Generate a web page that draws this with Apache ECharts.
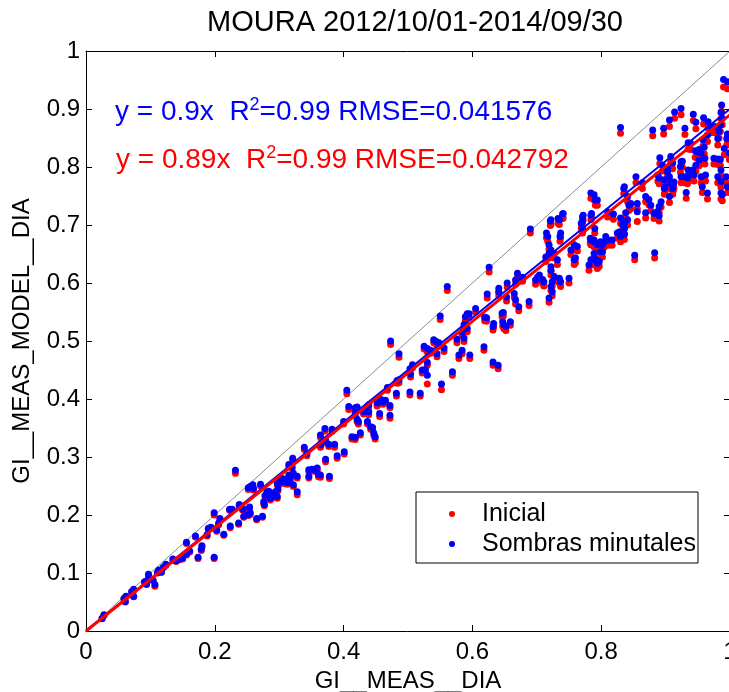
<!DOCTYPE html>
<html>
<head>
<meta charset="utf-8">
<title>MOURA GI</title>
<script src="https://cdn.jsdelivr.net/npm/echarts/dist/echarts.min.js"></script>
<style>
  html, body { margin: 0; padding: 0; background: #fff; overflow: hidden; }
  #chart { width: 729px; height: 692px; }
</style>
</head>
<body>
<div id="chart"></div>
<script>
// Daily global irradiation: measured (x) vs. modelled (y), MOURA station
const gi_meas = [
  0.025, 0.028, 0.059, 0.061, 0.062, 0.071, 0.074, 0.074, 0.091, 0.094,
  0.096, 0.097, 0.104, 0.107, 0.111, 0.113, 0.117, 0.120, 0.124, 0.135,
  0.140, 0.145, 0.150, 0.156, 0.156, 0.161, 0.170, 0.174, 0.179, 0.180,
  0.188, 0.190, 0.194, 0.199, 0.199, 0.203, 0.206, 0.208, 0.214, 0.223,
  0.224, 0.227, 0.232, 0.237, 0.238, 0.243, 0.244, 0.245, 0.252, 0.252,
  0.254, 0.255, 0.255, 0.259, 0.260, 0.265, 0.271, 0.274, 0.276, 0.277,
  0.278, 0.281, 0.284, 0.286, 0.289, 0.294, 0.297, 0.297, 0.298, 0.300,
  0.302, 0.304, 0.307, 0.309, 0.313, 0.315, 0.315, 0.317, 0.320, 0.321,
  0.322, 0.322, 0.328, 0.328, 0.339, 0.343, 0.346, 0.346, 0.351, 0.356,
  0.359, 0.361, 0.364, 0.364, 0.364, 0.365, 0.371, 0.372, 0.372, 0.377,
  0.378, 0.382, 0.386, 0.390, 0.400, 0.401, 0.405, 0.408, 0.413, 0.418,
  0.418, 0.418, 0.421, 0.421, 0.423, 0.426, 0.431, 0.437, 0.437, 0.439,
  0.439, 0.442, 0.445, 0.447, 0.449, 0.452, 0.456, 0.457, 0.458, 0.461,
  0.465, 0.468, 0.472, 0.472, 0.473, 0.482, 0.483, 0.486, 0.486, 0.503,
  0.503, 0.504, 0.507, 0.519, 0.522, 0.525, 0.527, 0.530, 0.530, 0.530,
  0.535, 0.540, 0.544, 0.545, 0.548, 0.550, 0.552, 0.556, 0.561, 0.569,
  0.576, 0.579, 0.584, 0.584, 0.587, 0.587, 0.589, 0.592, 0.592, 0.595,
  0.596, 0.605, 0.618, 0.619, 0.622, 0.623, 0.626, 0.632, 0.632, 0.633,
  0.640, 0.641, 0.641, 0.646, 0.647, 0.648, 0.649, 0.652, 0.653, 0.654,
  0.659, 0.665, 0.667, 0.667, 0.670, 0.672, 0.678, 0.688, 0.690, 0.698,
  0.701, 0.704, 0.709, 0.711, 0.714, 0.715, 0.717, 0.719, 0.719, 0.719,
  0.721, 0.722, 0.722, 0.722, 0.722, 0.722, 0.724, 0.724, 0.727, 0.727,
  0.732, 0.733, 0.735, 0.735, 0.736, 0.737, 0.737, 0.740, 0.741, 0.750,
  0.753, 0.758, 0.758, 0.760, 0.763, 0.769, 0.771, 0.771, 0.771, 0.772,
  0.781, 0.783, 0.784, 0.784, 0.784, 0.784, 0.785, 0.789, 0.789, 0.789,
  0.789, 0.789, 0.790, 0.791, 0.792, 0.794, 0.794, 0.794, 0.794, 0.797,
  0.799, 0.799, 0.802, 0.802, 0.805, 0.807, 0.810, 0.812, 0.817, 0.819,
  0.825, 0.828, 0.830, 0.830, 0.830, 0.833, 0.835, 0.836, 0.836, 0.836,
  0.836, 0.838, 0.841, 0.841, 0.843, 0.846, 0.852, 0.854, 0.856, 0.856,
  0.864, 0.869, 0.869, 0.874, 0.877, 0.880, 0.882, 0.883, 0.887, 0.888,
  0.890, 0.890, 0.890, 0.891, 0.893, 0.895, 0.897, 0.898, 0.898, 0.899,
  0.903, 0.903, 0.906, 0.906, 0.906, 0.908, 0.908, 0.911, 0.911, 0.912,
  0.913, 0.914, 0.923, 0.924, 0.924, 0.924, 0.926, 0.929, 0.930, 0.932,
  0.934, 0.935, 0.935, 0.937, 0.939, 0.942, 0.943, 0.944, 0.946, 0.947,
  0.947, 0.949, 0.952, 0.952, 0.955, 0.955, 0.957, 0.958, 0.959, 0.960,
  0.961, 0.962, 0.965, 0.965, 0.966, 0.970, 0.975, 0.976, 0.981, 0.981,
  0.982, 0.983, 0.985, 0.985, 0.986, 0.986, 0.986, 0.986, 0.987, 0.988,
  0.988, 0.990, 0.991, 0.994, 0.995, 0.996, 0.996, 0.996, 0.999
];

// Model with minute-resolution shading ("Sombras minutales")
const model_sombras = [
  0.022, 0.028, 0.056, 0.051, 0.060, 0.068, 0.072, 0.060, 0.085, 0.081,
  0.088, 0.098, 0.088, 0.080, 0.101, 0.105, 0.102, 0.110, 0.115, 0.124,
  0.121, 0.124, 0.126, 0.133, 0.153, 0.138, 0.164, 0.127, 0.141, 0.147,
  0.166, 0.177, 0.179, 0.127, 0.204, 0.174, 0.186, 0.194, 0.167, 0.210,
  0.181, 0.210, 0.277, 0.186, 0.218, 0.212, 0.210, 0.198, 0.201, 0.247,
  0.214, 0.204, 0.249, 0.252, 0.246, 0.194, 0.253, 0.198, 0.223, 0.218,
  0.234, 0.240, 0.241, 0.229, 0.232, 0.240, 0.232, 0.255, 0.245, 0.255,
  0.260, 0.263, 0.262, 0.257, 0.256, 0.269, 0.287, 0.263, 0.283, 0.298,
  0.272, 0.252, 0.267, 0.240, 0.317, 0.306, 0.278, 0.267, 0.279, 0.278,
  0.281, 0.270, 0.269, 0.321, 0.338, 0.324, 0.349, 0.329, 0.296, 0.322,
  0.267, 0.348, 0.322, 0.302, 0.361, 0.309, 0.415, 0.387, 0.335, 0.376,
  0.385, 0.334, 0.365, 0.386, 0.361, 0.342, 0.378, 0.361, 0.387, 0.378,
  0.390, 0.352, 0.351, 0.341, 0.335, 0.393, 0.375, 0.397, 0.399, 0.395,
  0.398, 0.420, 0.389, 0.372, 0.500, 0.410, 0.432, 0.433, 0.478, 0.412,
  0.452, 0.443, 0.459, 0.410, 0.450, 0.491, 0.451, 0.487, 0.463, 0.441,
  0.484, 0.502, 0.499, 0.478, 0.497, 0.543, 0.426, 0.488, 0.594, 0.447,
  0.503, 0.476, 0.484, 0.516, 0.528, 0.505, 0.542, 0.547, 0.522, 0.547,
  0.476, 0.556, 0.490, 0.541, 0.540, 0.581, 0.627, 0.464, 0.525, 0.530,
  0.458, 0.585, 0.591, 0.548, 0.533, 0.549, 0.528, 0.525, 0.576, 0.600,
  0.533, 0.582, 0.605, 0.571, 0.617, 0.559, 0.610, 0.568, 0.693, 0.605,
  0.610, 0.614, 0.606, 0.602, 0.645, 0.686, 0.680, 0.666, 0.651, 0.574,
  0.707, 0.709, 0.657, 0.628, 0.622, 0.594, 0.602, 0.585, 0.651, 0.611,
  0.640, 0.711, 0.709, 0.608, 0.680, 0.686, 0.602, 0.719, 0.720, 0.608,
  0.657, 0.666, 0.640, 0.643, 0.663, 0.703, 0.694, 0.714, 0.706, 0.717,
  0.631, 0.677, 0.755, 0.717, 0.674, 0.640, 0.720, 0.752, 0.674, 0.671,
  0.651, 0.640, 0.694, 0.743, 0.640, 0.743, 0.668, 0.666, 0.634, 0.637,
  0.671, 0.654, 0.654, 0.666, 0.671, 0.680, 0.723, 0.674, 0.674, 0.719,
  0.686, 0.688, 0.712, 0.868, 0.680, 0.700, 0.763, 0.766, 0.703, 0.694,
  0.684, 0.721, 0.749, 0.709, 0.734, 0.737, 0.648, 0.783, 0.737, 0.723,
  0.773, 0.749, 0.721, 0.744, 0.734, 0.864, 0.720, 0.652, 0.723, 0.786,
  0.732, 0.716, 0.781, 0.816, 0.740, 0.803, 0.867, 0.763, 0.778, 0.766,
  0.792, 0.798, 0.881, 0.783, 0.749, 0.818, 0.772, 0.807, 0.763, 0.769,
  0.774, 0.895, 0.801, 0.901, 0.809, 0.783, 0.810, 0.783, 0.867, 0.756,
  0.781, 0.842, 0.795, 0.789, 0.841, 0.795, 0.891, 0.786, 0.828, 0.877,
  0.803, 0.826, 0.830, 0.812, 0.824, 0.783, 0.766, 0.847, 0.885, 0.834,
  0.815, 0.786, 0.855, 0.755, 0.878, 0.870, 0.815, 0.870, 0.849, 0.783,
  0.814, 0.861, 0.872, 0.813, 0.894, 0.795, 0.775, 0.755, 0.907, 0.884,
  0.752, 0.951, 0.832, 0.783, 0.849, 0.947, 0.766, 0.857, 0.824
];

// Initial model ("Inicial")
const model_inicial = [
  0.021, 0.027, 0.055, 0.050, 0.059, 0.067, 0.070, 0.059, 0.084, 0.080,
  0.087, 0.096, 0.087, 0.077, 0.100, 0.103, 0.101, 0.109, 0.113, 0.122,
  0.120, 0.123, 0.124, 0.131, 0.151, 0.136, 0.162, 0.125, 0.139, 0.145,
  0.164, 0.175, 0.177, 0.125, 0.200, 0.172, 0.183, 0.192, 0.165, 0.208,
  0.178, 0.207, 0.272, 0.184, 0.215, 0.209, 0.208, 0.196, 0.199, 0.244,
  0.212, 0.201, 0.246, 0.249, 0.243, 0.192, 0.250, 0.196, 0.220, 0.216,
  0.231, 0.237, 0.238, 0.226, 0.229, 0.237, 0.229, 0.252, 0.242, 0.252,
  0.257, 0.260, 0.259, 0.254, 0.253, 0.266, 0.284, 0.260, 0.280, 0.295,
  0.269, 0.249, 0.264, 0.235, 0.313, 0.302, 0.275, 0.264, 0.276, 0.275,
  0.277, 0.266, 0.265, 0.317, 0.334, 0.320, 0.345, 0.325, 0.292, 0.318,
  0.263, 0.344, 0.317, 0.298, 0.357, 0.305, 0.409, 0.382, 0.331, 0.372,
  0.381, 0.330, 0.361, 0.382, 0.357, 0.338, 0.374, 0.357, 0.383, 0.373,
  0.386, 0.348, 0.347, 0.337, 0.331, 0.388, 0.370, 0.392, 0.394, 0.391,
  0.393, 0.415, 0.385, 0.367, 0.494, 0.405, 0.427, 0.428, 0.472, 0.407,
  0.447, 0.438, 0.454, 0.405, 0.445, 0.486, 0.446, 0.481, 0.458, 0.426,
  0.479, 0.497, 0.494, 0.473, 0.491, 0.537, 0.416, 0.482, 0.587, 0.441,
  0.497, 0.470, 0.478, 0.510, 0.522, 0.499, 0.534, 0.541, 0.516, 0.541,
  0.470, 0.550, 0.484, 0.535, 0.534, 0.574, 0.619, 0.458, 0.519, 0.524,
  0.452, 0.578, 0.584, 0.542, 0.526, 0.543, 0.521, 0.518, 0.569, 0.593,
  0.527, 0.575, 0.598, 0.564, 0.610, 0.552, 0.603, 0.561, 0.686, 0.598,
  0.603, 0.606, 0.599, 0.595, 0.637, 0.678, 0.672, 0.658, 0.643, 0.567,
  0.699, 0.701, 0.649, 0.620, 0.614, 0.587, 0.595, 0.578, 0.643, 0.604,
  0.632, 0.703, 0.701, 0.600, 0.672, 0.678, 0.594, 0.711, 0.712, 0.600,
  0.649, 0.658, 0.632, 0.635, 0.655, 0.695, 0.686, 0.706, 0.698, 0.709,
  0.622, 0.669, 0.746, 0.709, 0.666, 0.632, 0.712, 0.743, 0.666, 0.662,
  0.643, 0.631, 0.686, 0.734, 0.632, 0.734, 0.660, 0.657, 0.625, 0.629,
  0.662, 0.646, 0.645, 0.657, 0.662, 0.671, 0.714, 0.665, 0.665, 0.710,
  0.677, 0.679, 0.703, 0.858, 0.671, 0.691, 0.754, 0.757, 0.694, 0.685,
  0.675, 0.712, 0.740, 0.700, 0.725, 0.728, 0.640, 0.773, 0.728, 0.706,
  0.763, 0.740, 0.712, 0.735, 0.725, 0.854, 0.711, 0.643, 0.714, 0.776,
  0.722, 0.707, 0.771, 0.806, 0.731, 0.793, 0.857, 0.753, 0.768, 0.756,
  0.782, 0.788, 0.870, 0.773, 0.739, 0.808, 0.762, 0.797, 0.753, 0.759,
  0.764, 0.884, 0.791, 0.890, 0.799, 0.773, 0.800, 0.773, 0.856, 0.746,
  0.771, 0.831, 0.785, 0.779, 0.830, 0.785, 0.880, 0.776, 0.817, 0.866,
  0.793, 0.815, 0.819, 0.802, 0.813, 0.773, 0.756, 0.836, 0.874, 0.823,
  0.805, 0.776, 0.844, 0.745, 0.867, 0.859, 0.805, 0.859, 0.838, 0.773,
  0.804, 0.850, 0.861, 0.803, 0.883, 0.785, 0.765, 0.745, 0.896, 0.873,
  0.742, 0.938, 0.821, 0.773, 0.838, 0.935, 0.756, 0.846, 0.813
];

// Regression fits through the origin, one per model
const fit_names  = ['Sombras minutales', 'Inicial'];
const fit_slopes = [0.9, 0.89];
const fit_r2     = ['0.99', '0.99'];
const fit_rmse   = ['0.041576', '0.042792'];

// Axis ticks
const x_ticks = [0, 0.2, 0.4, 0.6, 0.8, 1];
const y_ticks = [0, 0.1, 0.2, 0.3, 0.4, 0.5, 0.6, 0.7, 0.8, 0.9, 1];

const FONT = '"Liberation Sans", Arial, Helvetica, sans-serif';
const RED = '#ff0000';
const BLUE = '#0000ff';

function pairs(xs, ys) {
  return xs.map((x, i) => [x, ys[i]]);
}

const chart = echarts.init(document.getElementById('chart'), null, { renderer: 'canvas' });

const axisCommon = {
  type: 'value',
  axisLine: { show: true, onZero: false, lineStyle: { color: '#000', width: 1 } },
  axisTick: { show: true, inside: true, length: 6, lineStyle: { color: '#000', width: 1 } },
  splitLine: { show: false },
  nameTextStyle: { fontFamily: FONT, fontSize: 24, color: '#000' }
};

const xStep = x_ticks[1] - x_ticks[0];
const yStep = y_ticks[1] - y_ticks[0];
const xMin = x_ticks[0], xMax = x_ticks[x_ticks.length - 1];
const yMin = y_ticks[0], yMax = y_ticks[y_ticks.length - 1];

const option = {
  animation: false,
  backgroundColor: '#fff',
  title: {
    text: 'MOURA 2012/10/01-2014/09/30',
    left: 410,
    textAlign: 'center',
    top: 3,
    textStyle: { fontFamily: FONT, fontSize: 29, fontWeight: 'normal', color: '#000' }
  },
  // plot box runs to x = 730, one pixel past the canvas edge
  grid: {
    left: 86, top: 51, width: 644, height: 580,
    containLabel: false,
    outerBoundsMode: 'none'
  },
  xAxis: [
    Object.assign({}, axisCommon, {
      position: 'bottom',
      min: xMin, max: xMax, interval: xStep,
      name: 'GI__MEAS__DIA',
      nameLocation: 'middle',
      nameGap: 35,
      axisLabel: { fontFamily: FONT, fontSize: 24, color: '#000', margin: 9, showMaxLabel: true }
    }),
    Object.assign({}, axisCommon, {
      position: 'top',
      min: xMin, max: xMax, interval: xStep,
      axisLabel: { show: false }
    })
  ],
  yAxis: [
    Object.assign({}, axisCommon, {
      position: 'left',
      min: yMin, max: yMax, interval: yStep,
      name: 'GI__MEAS_MODEL__DIA',
      nameLocation: 'middle',
      nameGap: 52,
      axisLabel: {
        fontFamily: FONT, fontSize: 24, color: '#000', margin: 6,
        formatter: v => String(+v.toFixed(1))
      }
    }),
    Object.assign({}, axisCommon, {
      position: 'right',
      min: yMin, max: yMax, interval: yStep,
      axisLabel: { show: false }
    })
  ],
  legend: {
    data: ['Inicial', 'Sombras minutales'],
    orient: 'vertical',
    left: 416,
    top: 492,
    padding: [8, 2, 5, 33],
    itemGap: 2,
    itemWidth: 6,
    itemHeight: 6,
    icon: 'circle',
    borderColor: '#000',
    borderWidth: 1,
    borderRadius: 0,
    backgroundColor: '#fff',
    selectedMode: false,
    itemStyle: { opacity: 1 },
    textStyle: {
      fontFamily: FONT, fontSize: 25, color: '#000',
      lineHeight: 28, padding: [0, 0, 0, 22]
    }
  },
  graphic: [
    {
      type: 'text',
      left: 115,
      top: 96,
      z: 100,
      style: {
        text: 'y = ' + fit_slopes[0] + 'x  R{sup|2}=' + fit_r2[0] + ' RMSE=' + fit_rmse[0],
        fill: BLUE,
        font: '28px ' + FONT,
        rich: {
          sup: { fontSize: 18, fontFamily: FONT, fill: BLUE, verticalAlign: 'top', lineHeight: 32 }
        }
      }
    },
    {
      type: 'text',
      left: 116,
      top: 144,
      z: 100,
      style: {
        text: 'y = ' + fit_slopes[1] + 'x  R{sup|2}=' + fit_r2[1] + ' RMSE=' + fit_rmse[1],
        fill: RED,
        font: '28px ' + FONT,
        rich: {
          sup: { fontSize: 18, fontFamily: FONT, fill: RED, verticalAlign: 'top', lineHeight: 32 }
        }
      }
    }
  ],
  series: [
    {
      name: 'identidad',
      type: 'line',
      data: [[xMin, yMin], [xMax, yMax]],
      showSymbol: false,
      silent: true,
      lineStyle: { color: '#8c8c8c', width: 1 },
      z: 1
    },
    {
      name: 'Inicial',
      type: 'scatter',
      data: pairs(gi_meas, model_inicial),
      symbol: 'circle',
      symbolSize: 7,
      itemStyle: { color: RED, opacity: 1 },
      z: 2
    },
    {
      name: 'Sombras minutales',
      type: 'scatter',
      data: pairs(gi_meas, model_sombras),
      symbol: 'circle',
      symbolSize: 7,
      itemStyle: { color: BLUE, opacity: 1 },
      z: 3
    },
    {
      name: 'ajuste ' + fit_names[0],
      type: 'line',
      data: [[xMin, 0], [xMax, fit_slopes[0] * xMax]],
      showSymbol: false,
      silent: true,
      lineStyle: { color: BLUE, width: 2 },
      z: 4
    },
    {
      name: 'ajuste ' + fit_names[1],
      type: 'line',
      data: [[xMin, 0], [xMax, fit_slopes[1] * xMax]],
      showSymbol: false,
      silent: true,
      lineStyle: { color: RED, width: 3 },
      z: 5
    }
  ]
};

chart.setOption(option);
</script>
</body>
</html>
